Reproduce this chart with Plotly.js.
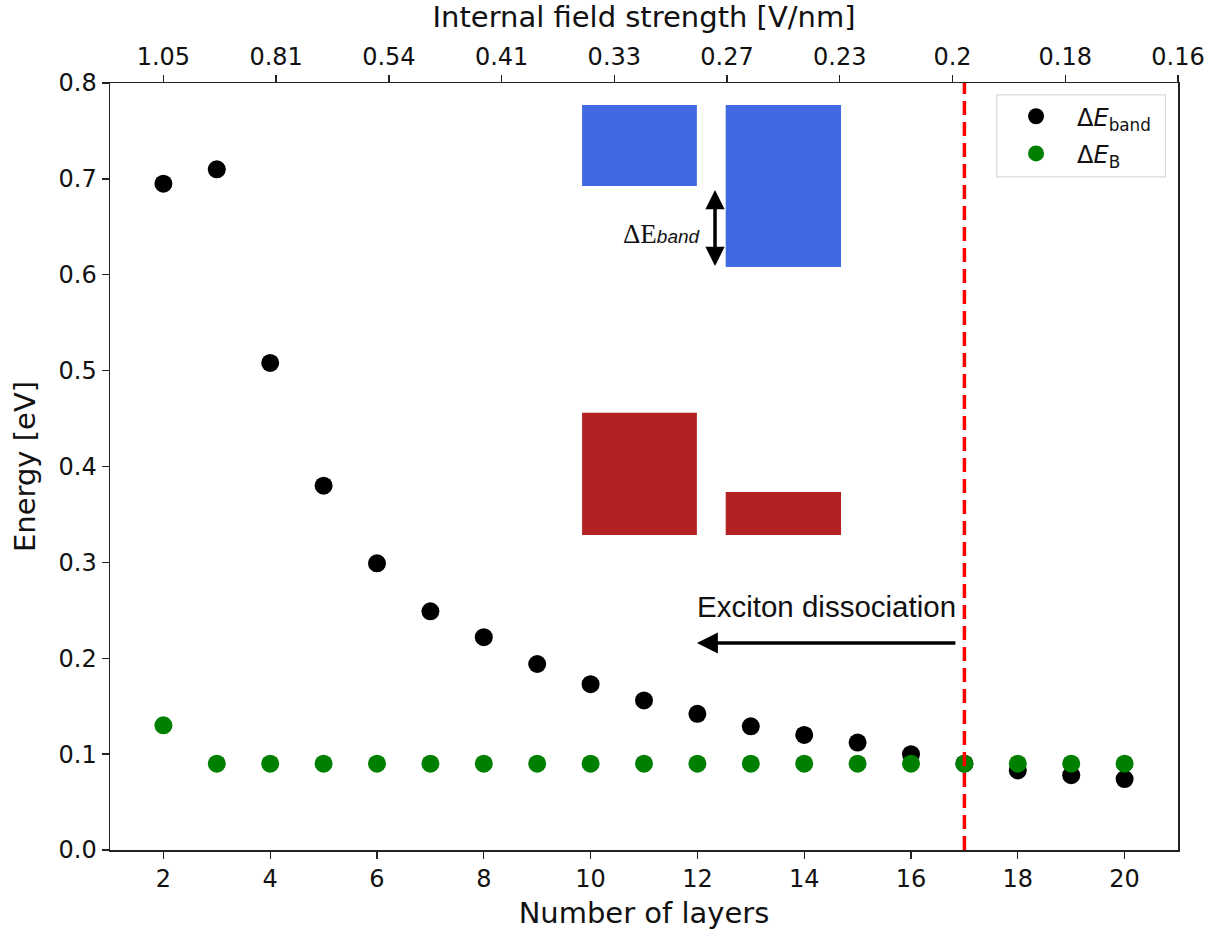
<!DOCTYPE html>
<html>
<head>
<meta charset="utf-8">
<script src="https://cdn.plot.ly/plotly-3.0.1.min.js"></script>
<style>html,body{margin:0;padding:0;background:#fff}#chart{width:1223px;height:936px}</style>
</head>
<body>
<div id="chart"></div>
<script>
// ---- data ----
const layers = [2,3,4,5,6,7,8,9,10,11,12,13,14,15,16,17,18,19,20];
const dEband = [0.695,0.710,0.508,0.380,0.299,0.249,0.222,0.194,0.173,0.156,0.142,0.129,0.120,0.112,0.100,0.090,0.083,0.078,0.074];
const dEB    = [0.130,0.090,0.090,0.090,0.090,0.090,0.090,0.090,0.090,0.090,0.090,0.090,0.090,0.090,0.090,0.090,0.090,0.090,0.090];
const fieldLabels = ["1.05","0.81","0.54","0.41","0.33","0.27","0.23","0.2","0.18","0.16"];
const dissociationLayer = 17;

const xRange = [1, 21];
const topTickVals = fieldLabels.map((_, i) => 2 + i * (xRange[1] - 2) / (fieldLabels.length - 1));

const font = "DejaVu Sans, sans-serif";
const tickFont = {family: font, size: 24, color: '#111'};
const titleFont = {family: font, size: 29, color: '#111'};

const traces = [
  {x: layers, y: dEband, type: 'scatter', mode: 'markers', name: 'Δ<i>E</i><sub>band</sub>', legendgroup: 'a',
   marker: {color: 'black', size: 18}, xaxis: 'x', yaxis: 'y'},
  {x: layers, y: dEB, type: 'scatter', mode: 'markers', name: 'Δ<i>E</i><sub>B</sub>', legendgroup: 'b',
   marker: {color: 'green', size: 18}, xaxis: 'x', yaxis: 'y'},
  {x: [xRange[0]], y: [null], type: 'scatter', mode: 'markers', showlegend: false, xaxis: 'x2', yaxis: 'y', hoverinfo: 'skip'}
];

const layout = {
  width: 1223, height: 936,
  margin: {l: 110, r: 45, t: 83, b: 86},
  paper_bgcolor: 'white', plot_bgcolor: 'white',
  font: {family: font, color: '#111', size: 22},
  showlegend: true,
  legend: {x: 0.8287, y: 0.9855, xanchor: 'left', yanchor: 'top',
           bgcolor: 'rgba(0,0,0,0)', borderwidth: 0, itemwidth: 72,
           font: {family: font, size: 24, color: '#111'}, tracegroupgap: 3},
  xaxis: {range: xRange, tickvals: [2,4,6,8,10,12,14,16,18,20], ticks: 'outside', ticklen: 7, tickwidth: 1.3,
          tickcolor: '#222', showline: true, linecolor: '#222', linewidth: 1.5, mirror: false,
          showgrid: false, zeroline: false, tickfont: tickFont,
          title: {text: 'Number of layers', font: titleFont, standoff: 10}},
  xaxis2: {range: xRange, overlaying: 'x', side: 'top', tickvals: topTickVals, ticktext: fieldLabels,
           ticks: 'outside', ticklen: 7, tickwidth: 1.3, tickcolor: '#222', showline: true, linecolor: '#222',
           linewidth: 1.5, showgrid: false, zeroline: false, tickfont: tickFont,
           title: {text: 'Internal field strength [V/nm]', font: titleFont, standoff: 10}},
  yaxis: {range: [0, 0.8], dtick: 0.1, tickformat: '.1f', ticks: 'outside', ticklen: 7, tickwidth: 1.3,
          tickcolor: '#222', showline: true, linecolor: '#222', linewidth: 1.5, mirror: true,
          showgrid: false, zeroline: false, tickfont: tickFont,
          title: {text: 'Energy [eV]', font: titleFont, standoff: 14}},
  shapes: [
    {type: 'rect', xref: 'x', yref: 'y', x0: 9.84, x1: 11.99, y0: 0.6926, y1: 0.777, fillcolor: 'royalblue', line: {width: 0}, layer: 'below'},
    {type: 'rect', xref: 'x', yref: 'y', x0: 12.53, x1: 14.69, y0: 0.608, y1: 0.777, fillcolor: 'royalblue', line: {width: 0}, layer: 'below'},
    {type: 'rect', xref: 'x', yref: 'y', x0: 9.84, x1: 11.99, y0: 0.3286, y1: 0.456, fillcolor: 'firebrick', line: {width: 0}, layer: 'below'},
    {type: 'rect', xref: 'x', yref: 'y', x0: 12.53, x1: 14.69, y0: 0.3286, y1: 0.3734, fillcolor: 'firebrick', line: {width: 0}, layer: 'below'},
    {type: 'line', xref: 'x', yref: 'paper', x0: dissociationLayer, x1: dissociationLayer, y0: 0, y1: 1,
     line: {color: 'red', width: 3.5, dash: '14px,7px'}},
    {type: 'rect', xref: 'paper', yref: 'paper', x0: 0.8303, x1: 0.9882, y0: 0.8775, y1: 0.9844,
     fillcolor: 'rgba(255,255,255,0.85)', line: {color: '#d9d9d9', width: 1.2}, layer: 'above'}
  ],
  annotations: [
    {xref: 'x', yref: 'y', axref: 'x', ayref: 'y', x: 12.33, y: 0.609, ax: 12.33, ay: 0.690, text: '',
     showarrow: true, arrowhead: 2, startarrowhead: 2, arrowside: 'end+start', arrowsize: 1.1, startarrowsize: 1.1, arrowwidth: 3.5, arrowcolor: 'black'},
    {xref: 'x', yref: 'y', x: 12.10, y: 0.6425, xanchor: 'right', yanchor: 'middle', showarrow: false,
     text: '<span style="font-family:Liberation Serif">ΔE</span><span style="font-size:19px"><i>band</i></span>',
     font: {family: 'Liberation Sans, sans-serif', size: 27, color: '#111'}},
    {xref: 'x', yref: 'y', axref: 'x', ayref: 'y', x: 11.99, y: 0.216, ax: 16.86, ay: 0.216, text: '',
     showarrow: true, arrowhead: 2, arrowsize: 1.2, arrowwidth: 3.5, arrowcolor: 'black'},
    {xref: 'x', yref: 'y', x: 16.88, y: 0.2535, xanchor: 'right', yanchor: 'middle', showarrow: false,
     text: 'Exciton dissociation', font: {family: 'Liberation Sans, sans-serif', size: 29.5, color: '#111'}}
  ]
};

Plotly.newPlot('chart', traces, layout, {displayModeBar: false, staticPlot: true});
</script>
</body>
</html>
